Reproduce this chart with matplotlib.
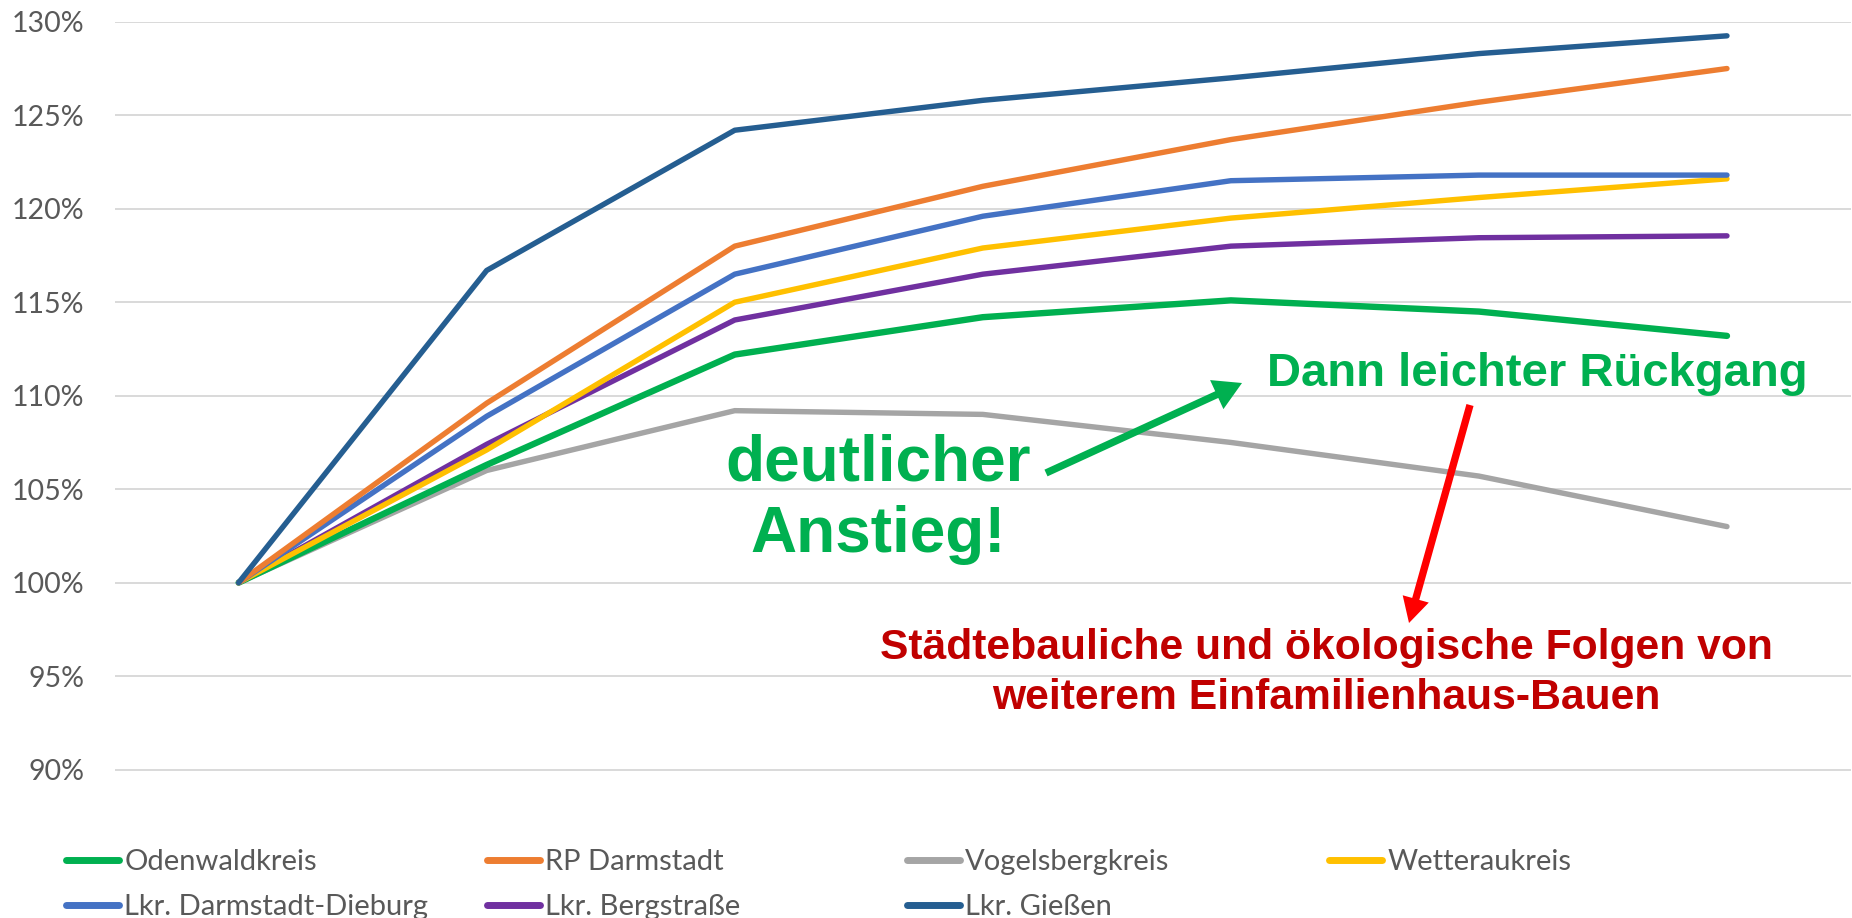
import matplotlib
matplotlib.use("Agg")
import matplotlib.pyplot as plt
from matplotlib.lines import Line2D
from matplotlib.patches import FancyArrowPatch

# ---------------- data ----------------
categories = ["", "", "", "", "", "", ""]
series_names = ["Odenwaldkreis", "RP Darmstadt", "Vogelsbergkreis", "Wetteraukreis",
                "Lkr. Darmstadt-Dieburg", "Lkr. Bergstraße", "Lkr. Gießen"]
odenwald = [100, 106.3, 112.2, 114.2, 115.1, 114.5, 113.2]
rp_darmstadt = [100, 109.6, 118.0, 121.2, 123.7, 125.7, 127.5]
vogelsberg = [100, 106.0, 109.2, 109.0, 107.5, 105.7, 103.0]
wetterau = [100, 107.1, 115.0, 117.9, 119.5, 120.6, 121.6]
darmstadt_dieburg = [100, 108.9, 116.5, 119.6, 121.5, 121.8, 121.8]
bergstrasse = [100, 107.4, 114.05, 116.5, 118.0, 118.45, 118.55]
giessen = [100, 116.7, 124.2, 125.8, 127.0, 128.3, 129.25]
y_ticks = [90, 95, 100, 105, 110, 115, 120, 125, 130]

colors = ["#00B050", "#ED7D31", "#A5A5A5", "#FFC000", "#4472C4", "#7030A0", "#255E91"]
widths = [4.6, 3.9, 3.9, 3.9, 3.9, 3.9, 3.9]
values = [odenwald, rp_darmstadt, vogelsberg, wetterau, darmstadt_dieburg, bergstrasse, giessen]

W, H = 1852, 918
fig = plt.figure(figsize=(W / 100, H / 100), dpi=100)
ax = fig.add_axes([114.6 / W, 1 - 807 / H, (1851 - 114.6) / W, (807 - 21.8) / H])

x = list(range(len(categories)))
draw_order = [2, 0, 5, 3, 4, 1, 6]
for i in draw_order:
    ax.plot(x, values[i], color=colors[i], lw=widths[i], solid_capstyle="round",
            solid_joinstyle="round", zorder=3)

ax.set_xlim(-0.5, 6.5)
ax.set_ylim(88.0, 130)
ax.set_yticks(y_ticks)
ax.set_yticklabels([f"{v}%" for v in y_ticks], fontsize=20.5, color="#595959", family="Lato")
ax.set_xticks(x)
ax.set_xticklabels(categories)
ax.tick_params(axis="both", length=0)
ax.tick_params(axis="y", pad=22)
ax.grid(axis="y", color="#D9D9D9", lw=1.4, zorder=0)
for s in ax.spines.values():
    s.set_visible(False)

# ---------------- legend (4 columns, Excel style) ----------------
cols = [[0, 4], [1, 5], [2, 6], [3]]
col_x = [66, 487, 907, 1329]
for cx, idxs in zip(col_x, cols):
    hs = [Line2D([], [], color=colors[i], lw=5, solid_capstyle="round") for i in idxs]
    fig.legend(hs, [series_names[i] for i in idxs], loc="upper left",
               bbox_to_anchor=(cx / W, 1 - 849 / H), frameon=False, borderpad=0,
               borderaxespad=0, handlelength=1.8, handletextpad=0.2, labelspacing=0.66,
               prop={"family": "Lato", "size": 21}, labelcolor="#595959")

# ---------------- annotations ----------------
def fx(px):
    return px / W

def fy(py):
    return 1 - py / H

fig.text(fx(878), fy(499), "deutlicher\nAnstieg!", ha="center", va="center",
         fontsize=46, fontweight="bold", color="#00B050", family="Liberation Sans",
         linespacing=1.25)
fig.text(fx(1537), fy(374), "Dann leichter Rückgang", ha="center", va="center",
         fontsize=34, fontweight="bold", color="#00B050", family="Liberation Sans")
fig.text(fx(1326), fy(673), "Städtebauliche und ökologische Folgen von\nweiterem Einfamilienhaus-Bauen",
         ha="center", va="center", fontsize=30.7, fontweight="bold", color="#C00000",
         family="Liberation Sans", linespacing=1.33)

green_arrow = FancyArrowPatch((fx(1046), fy(473)), (fx(1242), fy(383)), transform=fig.transFigure,
                              arrowstyle="simple,head_length=20,head_width=23,tail_width=5.3",
                              mutation_scale=1, color="#00B050", lw=0, shrinkA=0, shrinkB=0)
red_arrow = FancyArrowPatch((fx(1470), fy(405)), (fx(1409), fy(623)), transform=fig.transFigure,
                            arrowstyle="simple,head_length=18,head_width=19.5,tail_width=5.3",
                            mutation_scale=1, color="#FF0000", lw=0, shrinkA=0, shrinkB=0)
fig.patches.extend([green_arrow, red_arrow])

fig.savefig("out.png", dpi=100)
